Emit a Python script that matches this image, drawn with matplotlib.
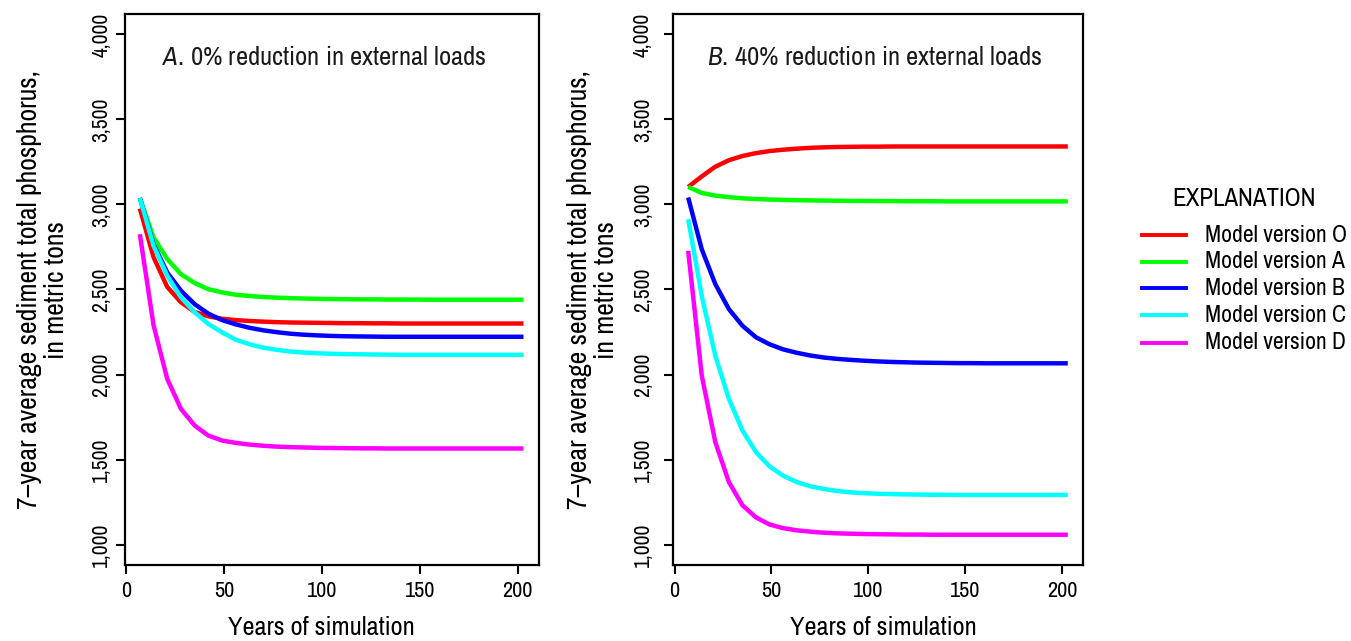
import matplotlib
matplotlib.use("Agg")
import matplotlib.pyplot as plt
from matplotlib.lines import Line2D

FONT = ["Archivo Narrow", "Liberation Sans Narrow", "DejaVu Sans"]
plt.rcParams["font.family"] = FONT
plt.rcParams["mathtext.fontset"] = "custom"
plt.rcParams["mathtext.rm"] = "Archivo Narrow"
plt.rcParams["mathtext.it"] = "Archivo Narrow:italic"

# ---------------- data ----------------
years = [7, 14, 21, 28, 35, 42, 49, 56, 63, 70, 77, 84, 91, 98, 105, 112, 119,
         126, 133, 140, 147, 154, 161, 168, 175, 182, 189, 196, 203]

series_labels = ["Model version O", "Model version A", "Model version B",
                 "Model version C", "Model version D"]
series_colors = ["#FF0000", "#00FF00", "#0000FF", "#00FFFF", "#FF00FF"]

# Panel A: 0% reduction in external loads
a_O = [2976, 2690, 2515, 2425, 2368, 2342, 2328, 2320, 2315, 2311, 2308, 2306, 2305, 2304, 2303,
       2302, 2302, 2301, 2301, 2300, 2300, 2300, 2300, 2300, 2300, 2300, 2300, 2300, 2300]
a_A = [3038, 2806, 2679, 2590, 2538, 2502, 2483, 2469, 2462, 2456, 2452, 2449, 2447, 2445, 2444,
       2443, 2442, 2442, 2441, 2441, 2441, 2440, 2440, 2440, 2440, 2440, 2440, 2440, 2440]
a_B = [3038, 2767, 2600, 2493, 2414, 2358, 2320, 2295, 2275, 2260, 2249, 2240, 2234, 2230, 2227,
       2225, 2224, 2223, 2222, 2222, 2222, 2222, 2222, 2222, 2222, 2222, 2222, 2222, 2222]
a_C = [3038, 2757, 2581, 2454, 2366, 2297, 2248, 2205, 2178, 2158, 2145, 2135, 2129, 2125, 2122,
       2120, 2119, 2118, 2117, 2116, 2116, 2116, 2116, 2116, 2116, 2116, 2116, 2116, 2116]
a_D = [2825, 2290, 1974, 1798, 1700, 1641, 1612, 1598, 1588, 1581, 1576, 1573, 1571, 1569, 1568,
       1567, 1566, 1566, 1565, 1565, 1565, 1565, 1565, 1565, 1565, 1565, 1565, 1565, 1565]

# Panel B: 40% reduction in external loads
b_O = [3103, 3165, 3222, 3260, 3285, 3302, 3314, 3322, 3328, 3333, 3336, 3338, 3339, 3340, 3340,
       3341, 3341, 3341, 3341, 3341, 3341, 3341, 3341, 3341, 3341, 3341, 3341, 3341, 3341]
b_A = [3103, 3068, 3052, 3043, 3036, 3032, 3029, 3027, 3025, 3024, 3023, 3022, 3021, 3021, 3020,
       3020, 3019, 3019, 3019, 3018, 3018, 3018, 3018, 3018, 3018, 3018, 3018, 3018, 3018]
b_B = [3041, 2737, 2532, 2385, 2287, 2219, 2178, 2148, 2128, 2112, 2100, 2092, 2086, 2081, 2077,
       2074, 2072, 2070, 2069, 2068, 2067, 2067, 2066, 2066, 2066, 2066, 2066, 2066, 2066]
b_C = [2913, 2463, 2111, 1857, 1671, 1544, 1460, 1405, 1368, 1343, 1327, 1315, 1307, 1302, 1299,
       1297, 1295, 1294, 1293, 1293, 1292, 1292, 1292, 1292, 1292, 1292, 1292, 1292, 1292]
b_D = [2727, 1994, 1603, 1368, 1231, 1160, 1118, 1097, 1084, 1076, 1070, 1066, 1064, 1062, 1061,
       1060, 1059, 1059, 1058, 1058, 1058, 1058, 1058, 1058, 1058, 1058, 1058, 1058, 1058]

panel_A = [a_O, a_A, a_B, a_C, a_D]
panel_B = [b_O, b_A, b_B, b_C, b_D]

x_ticks = [0, 50, 100, 150, 200]
y_ticks = [1000, 1500, 2000, 2500, 3000, 3500, 4000]
y_tick_labels = ["1,000", "1,500", "2,000", "2,500", "3,000", "3,500", "4,000"]

title_A = r"$\mathit{A.}\,$0% reduction in external loads"
title_B = r"$\mathit{B.}\,$40% reduction in external loads"
x_label = "Years of simulation"
y_label_1 = "7\u2013year average sediment total phosphorus,"
y_label_2 = "in metric tons"
legend_title = "EXPLANATION"

# ---------------- figure ----------------
W, H = 1351, 641
fig = plt.figure(figsize=(W / 100, H / 100), dpi=100)
fig.patch.set_facecolor("white")

axL = fig.add_axes([124.5 / W, (H - 565) / H, 414.3 / W, 551 / H])
axR = fig.add_axes([673 / W, (H - 565) / H, 410 / W, 551 / H])


def style(ax, data, title, title_x, xlabel_x, ypad):
    for vals, col in zip(data, series_colors):
        ax.plot(years, vals, color=col, lw=3.2, solid_capstyle="butt")
    ax.set_xlim(-0.84, 210.84)
    ax.set_ylim(880, 4120)
    ax.set_xticks(x_ticks)
    ax.set_xticklabels([str(t) for t in x_ticks], fontsize=16)
    ax.set_yticks(y_ticks)
    ax.set_yticklabels(y_tick_labels, fontsize=15.5, rotation=90, va="center")
    for s in ax.spines.values():
        s.set_linewidth(1.6)
        s.set_color("black")
    ax.tick_params(axis="both", direction="out", length=6.5, width=1.5, colors="black")
    ax.tick_params(axis="x", pad=5)
    ax.tick_params(axis="y", pad=ypad)
    ax.text(title_x, 0.907, title, transform=ax.transAxes, ha="left", va="baseline",
            fontsize=19.2, color="#1a1a1a")
    ax.set_xlabel(x_label, fontsize=19, va="center")
    ax.xaxis.set_label_coords(xlabel_x, -0.114)


style(axL, panel_A, title_A, 0.0898, 0.474, 3)
style(axR, panel_B, title_B, 0.082, 0.513, 8)

# y-axis labels (two lines each)
for x1, x2 in [(30, 56), (580, 607)]:
    fig.text(x1 / W, 1 - 290 / H, y_label_1, rotation=90, ha="center", va="center",
             fontsize=20)
    fig.text(x2 / W, 1 - 290 / H, y_label_2, rotation=90, ha="center", va="center",
             fontsize=20)

# legend ("EXPLANATION")
fig.text(1243.7 / W, 1 - 198 / H, legend_title, ha="center", va="center", fontsize=18)
entry_y = [235, 261.7, 288.3, 315, 342.7]
for yy, col, lab in zip(entry_y, series_colors, series_labels):
    fig.add_artist(Line2D([1141.7 / W, 1186 / W], [1 - yy / H, 1 - yy / H],
                          transform=fig.transFigure, color=col, lw=2.8))
    fig.text(1205 / W, 1 - yy / H, lab, ha="left", va="center", fontsize=17)

fig.savefig("out.png", dpi=100, facecolor="white")
